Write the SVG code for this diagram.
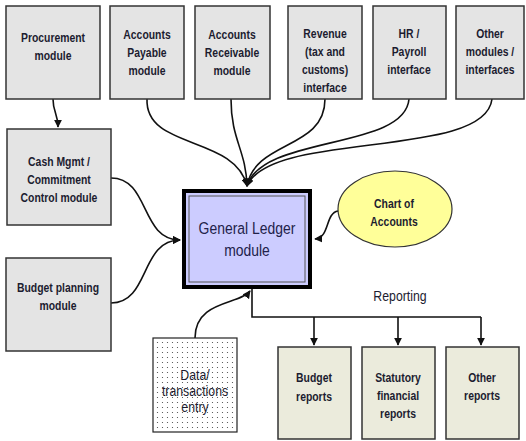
<svg xmlns="http://www.w3.org/2000/svg" width="526" height="441" viewBox="0 0 526 441">
<style>
.box{fill:#e4e4e4;stroke:#333;stroke-width:1.5}
.rep{fill:#ebebdc;stroke:#333;stroke-width:1.5}
.t{font-family:"Liberation Sans",Arial,sans-serif;font-weight:bold;font-size:13px;fill:#1c1c30;text-anchor:middle}
.tn{font-family:"Liberation Sans",Arial,sans-serif;font-size:13px;fill:#1c1c30;text-anchor:middle}
.c{fill:none;stroke:#111;stroke-width:1.6}
</style>
<defs>
<marker id="a" viewBox="0 0 10 10" refX="9" refY="5" markerWidth="8" markerHeight="8" orient="auto" markerUnits="userSpaceOnUse">
<path d="M0,0 L10,5 L0,10 z" fill="#111"/>
</marker>
<pattern id="dots" width="5" height="5" patternUnits="userSpaceOnUse">
<rect width="5" height="5" fill="#fff"/>
<circle cx="2.5" cy="2.5" r="0.6" fill="#444"/>
</pattern>
</defs>

<g id="connectors">
<path class="c" d="M53,99 C53,112 58,114 58,127" marker-end="url(#a)"/>
<path class="c" d="M147,99 C145,150 235,135 247,186" marker-end="url(#a)"/>
<path class="c" d="M231,99 C231,140 246,150 247,186" marker-end="url(#a)"/>
<path class="c" d="M325,99 C325,150 255,140 247,186" marker-end="url(#a)"/>
<path class="c" d="M409,99 C405,150 262,135 247,186" marker-end="url(#a)"/>
<path class="c" d="M492,99 C485,160 270,130 247,186" marker-end="url(#a)"/>
<path class="c" d="M111,178 C150,178 140,240 180,240" marker-end="url(#a)"/>
<path class="c" d="M111,303 C150,303 140,240 180,240" marker-end="url(#a)"/>
<path class="c" stroke-width="1.2" d="M338,211 C325,213 330,238 315,239" marker-end="url(#a)"/>
<path class="c" stroke-width="1.2" d="M195,338 C195,300 240,305 250,291" marker-end="url(#a)"/>
<path class="c" d="M252,289 V317 H481"/>
<path class="c" d="M314,317 V345" marker-end="url(#a)"/>
<path class="c" d="M398,317 V345" marker-end="url(#a)"/>
<path class="c" d="M481,317 V345" marker-end="url(#a)"/>
</g>

<g id="procurement"><rect class="box" x="6" y="6" width="94" height="93"/>
<g transform="translate(53 0) scale(0.8 1)"><text class="t" x="0" y="42">Procurement</text><text class="t" x="0" y="60">module</text></g></g>

<g id="accounts-payable"><rect class="box" x="110" y="6" width="74" height="93"/>
<g transform="translate(147 0) scale(0.8 1)"><text class="t" x="0" y="39">Accounts</text><text class="t" x="0" y="57">Payable</text><text class="t" x="0" y="75">module</text></g></g>

<g id="accounts-receivable"><rect class="box" x="195" y="6" width="75" height="93"/>
<g transform="translate(232 0) scale(0.8 1)"><text class="t" x="0" y="39">Accounts</text><text class="t" x="0" y="57">Receivable</text><text class="t" x="0" y="75">module</text></g></g>

<g id="revenue"><rect class="box" x="288" y="6" width="74" height="93"/>
<g transform="translate(325 0) scale(0.8 1)"><text class="t" x="0" y="38">Revenue</text><text class="t" x="0" y="56">(tax and</text><text class="t" x="0" y="74">customs)</text><text class="t" x="0" y="92">interface</text></g></g>

<g id="hr-payroll"><rect class="box" x="373" y="6" width="73" height="93"/>
<g transform="translate(409 0) scale(0.8 1)"><text class="t" x="0" y="38">HR /</text><text class="t" x="0" y="56">Payroll</text><text class="t" x="0" y="74">interface</text></g></g>

<g id="other-modules"><rect class="box" x="456" y="6" width="68" height="93"/>
<g transform="translate(490 0) scale(0.8 1)"><text class="t" x="0" y="38">Other</text><text class="t" x="0" y="56">modules /</text><text class="t" x="0" y="74">interfaces</text></g></g>

<g id="cash-mgmt"><rect class="box" x="7" y="129" width="104" height="96"/>
<g transform="translate(59 0) scale(0.8 1)"><text class="t" x="0" y="166">Cash Mgmt /</text><text class="t" x="0" y="184">Commitment</text><text class="t" x="0" y="202">Control module</text></g></g>

<g id="budget-planning"><rect class="box" x="6" y="258" width="105" height="93"/>
<g transform="translate(58 0) scale(0.8 1)"><text class="t" x="0" y="292">Budget planning</text><text class="t" x="0" y="310">module</text></g></g>

<g id="general-ledger">
<rect x="184" y="191" width="126" height="96" fill="#ccccff" stroke="#000" stroke-width="4"/>
<rect x="189" y="196" width="116" height="86" fill="none" stroke="#555" stroke-width="1"/>
<g transform="translate(247 0) scale(0.82 1)">
<text class="tn" x="0" y="234" style="font-size:17px;fill:#22224a">General Ledger</text>
<text class="tn" x="0" y="256" style="font-size:17px;fill:#22224a">module</text></g></g>

<g id="chart-of-accounts"><ellipse cx="395" cy="209" rx="57" ry="38" fill="#ffff99" stroke="#333" stroke-width="1.2"/>
<g transform="translate(394 0) scale(0.8 1)"><text class="t" x="0" y="208">Chart of</text><text class="t" x="0" y="226">Accounts</text></g></g>

<g id="data-entry"><rect x="153" y="338" width="84" height="94" fill="url(#dots)" stroke="#222" stroke-width="1.2"/>
<g transform="translate(195 0) scale(0.82 1)"><text class="tn" x="0" y="380" style="font-size:15px">Data/</text><text class="tn" x="0" y="396" style="font-size:15px">transactions</text><text class="tn" x="0" y="412" style="font-size:15px">entry</text></g></g>

<g transform="translate(400 0) scale(0.82 1)"><text class="tn" x="0" y="301" style="font-size:15px">Reporting</text></g>

<g id="budget-reports"><rect class="rep" x="278" y="347" width="73" height="92"/>
<g transform="translate(314 0) scale(0.8 1)"><text class="t" x="0" y="382">Budget</text><text class="t" x="0" y="401">reports</text></g></g>

<g id="statutory-reports"><rect class="rep" x="362" y="347" width="73" height="92"/>
<g transform="translate(398 0) scale(0.8 1)"><text class="t" x="0" y="382">Statutory</text><text class="t" x="0" y="400">financial</text><text class="t" x="0" y="418">reports</text></g></g>

<g id="other-reports"><rect class="rep" x="446" y="347" width="73" height="92"/>
<g transform="translate(482 0) scale(0.8 1)"><text class="t" x="0" y="382">Other</text><text class="t" x="0" y="400">reports</text></g></g>
</svg>
